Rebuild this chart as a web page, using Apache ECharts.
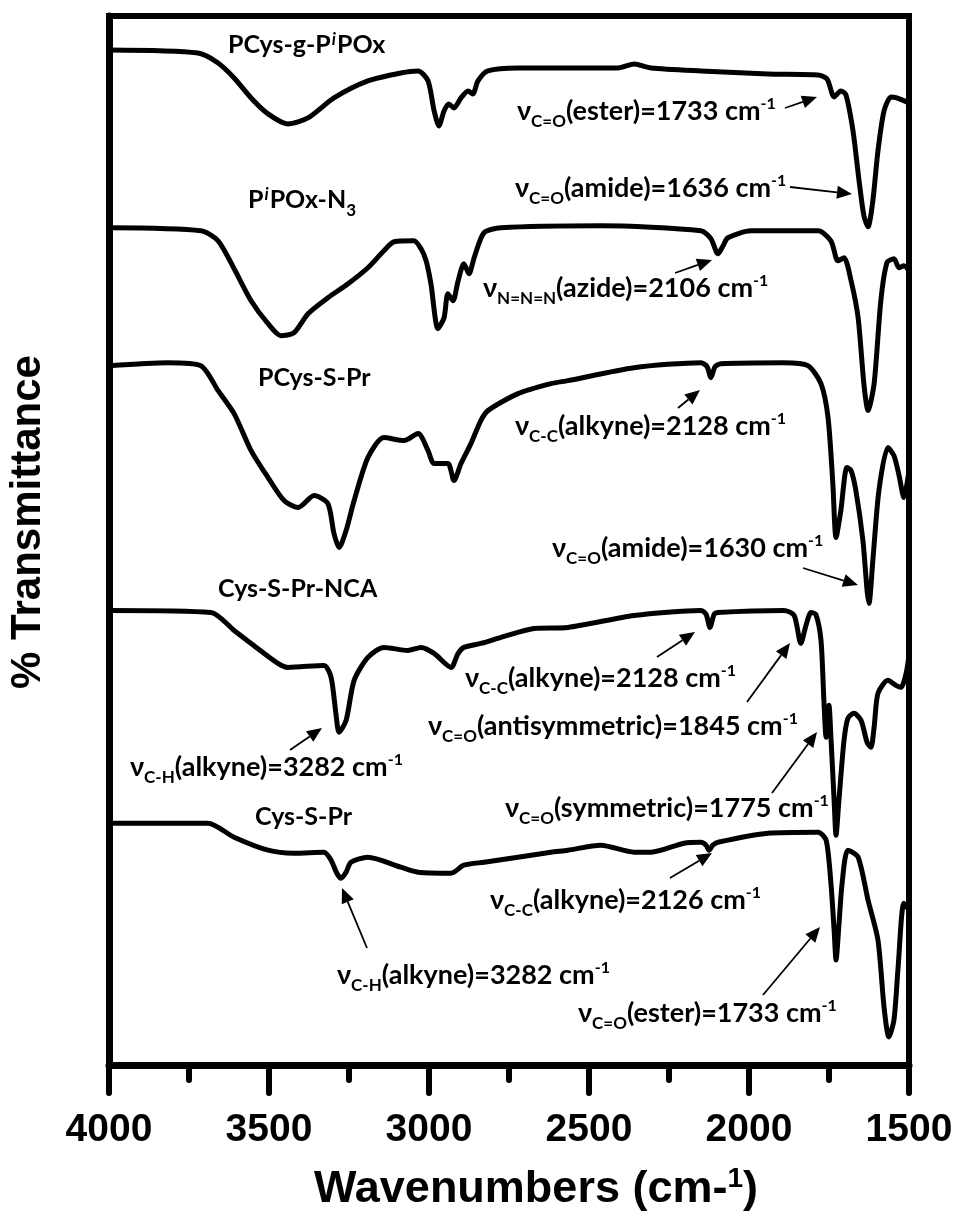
<!DOCTYPE html>
<html>
<head>
<meta charset="utf-8">
<script src="https://cdn.jsdelivr.net/npm/echarts@6/dist/echarts.min.js"></script>
<style>
  html, body { margin: 0; padding: 0; background: #fff; }
  #chart { width: 958px; height: 1215px; }
</style>
</head>
<body>
<div id="chart"></div>
<script>
// FTIR spectra, [wavenumber (cm-1), offset transmittance (a.u.)]
const pcysGPiPOx = [
  [4000, 101.6], [3722, 101.3], [3659, 100.3], [3609, 98.8], [3556, 96.8], [3503, 95.2],
  [3441, 94.2], [3378, 94.8], [3297, 96.8], [3191, 98.5], [3088, 99.3], [3034, 99.5],
  [3003, 98.5], [2984, 95.5], [2969, 94.0], [2953, 95.5], [2938, 96.2], [2922, 95.8],
  [2900, 96.8], [2878, 97.5], [2863, 97.2], [2847, 98.5], [2816, 99.5], [2722, 99.8],
  [2566, 99.8], [2409, 99.8], [2359, 100.2], [2306, 99.8], [2150, 99.5], [1941, 99.2],
  [1784, 99.1], [1756, 98.7], [1734, 96.9], [1713, 97.5], [1697, 97.1], [1675, 93.5],
  [1656, 88.5], [1641, 85.0], [1628, 83.9], [1613, 86.5], [1597, 91.5], [1578, 95.5],
  [1556, 96.9], [1538, 96.8], [1500, 96.3]
];
const piPOxN3 = [
  [4000, 83.8], [3713, 83.5], [3659, 82.5], [3609, 79.7], [3556, 76.5], [3503, 74.2],
  [3463, 73.0], [3422, 73.3], [3378, 75.2], [3316, 76.8], [3253, 78.2], [3191, 79.8],
  [3141, 81.5], [3109, 82.4], [3047, 82.5], [3025, 81.7], [3009, 80.5], [2994, 78.2],
  [2972, 73.7], [2953, 74.8], [2941, 77.2], [2925, 76.5], [2909, 78.5], [2891, 80.2],
  [2875, 79.2], [2859, 80.8], [2828, 83.3], [2775, 83.8], [2463, 84.0], [2150, 83.5],
  [2119, 82.7], [2097, 81.2], [2081, 82.0], [2066, 82.8], [1994, 83.5], [1784, 83.5],
  [1744, 82.5], [1722, 80.5], [1703, 80.8], [1681, 78.5], [1659, 74.8], [1641, 68.2],
  [1628, 65.5], [1609, 68.2], [1588, 76.5], [1569, 80.3], [1547, 80.7], [1531, 79.8],
  [1516, 80.0], [1500, 79.5]
];
const pcysSPr = [
  [4000, 70.0], [3816, 70.3], [3713, 70.0], [3659, 67.5], [3609, 65.2], [3556, 61.5],
  [3503, 58.8], [3453, 56.5], [3409, 55.8], [3359, 57.0], [3316, 56.2], [3297, 53.2],
  [3281, 51.8], [3259, 53.5], [3234, 56.5], [3191, 60.8], [3141, 62.8], [3078, 62.5],
  [3034, 63.2], [3003, 61.5], [2984, 60.2], [2941, 60.2], [2922, 58.5], [2900, 60.2],
  [2869, 62.2], [2838, 64.5], [2816, 65.5], [2722, 67.2], [2619, 68.2], [2566, 68.5],
  [2359, 69.8], [2150, 70.3], [2131, 69.9], [2119, 68.8], [2106, 69.9], [2088, 70.2],
  [1891, 70.3], [1816, 70.0], [1775, 68.2], [1753, 64.8], [1738, 58.2], [1728, 52.8],
  [1713, 55.5], [1694, 59.8], [1681, 59.5], [1666, 57.5], [1644, 52.5], [1631, 47.5],
  [1625, 46.2], [1613, 50.5], [1594, 57.5], [1566, 61.8], [1547, 61.0], [1531, 59.0],
  [1516, 56.8], [1500, 59.5]
];
const cysSPrNCA = [
  [4000, 45.5], [3681, 45.3], [3609, 43.5], [3556, 42.2], [3472, 40.2], [3441, 39.8],
  [3328, 40.0], [3306, 38.8], [3291, 35.2], [3281, 33.3], [3259, 34.5], [3234, 38.5],
  [3191, 40.8], [3141, 41.8], [3066, 41.5], [3025, 41.8], [2984, 41.2], [2931, 39.8],
  [2909, 41.2], [2891, 41.8], [2838, 42.2], [2775, 42.8], [2672, 43.7], [2566, 43.8],
  [2359, 45.0], [2150, 45.5], [2134, 45.1], [2122, 43.8], [2109, 45.1], [2097, 45.3],
  [1891, 45.5], [1859, 45.0], [1838, 42.2], [1822, 44.0], [1806, 45.3], [1791, 45.1],
  [1775, 42.5], [1766, 36.5], [1759, 32.8], [1750, 36.0], [1744, 32.8], [1734, 26.5],
  [1728, 23.0], [1719, 26.5], [1703, 32.5], [1691, 34.7], [1672, 35.2], [1650, 34.5],
  [1631, 32.3], [1619, 31.8], [1609, 33.8], [1597, 37.2], [1566, 38.5], [1541, 38.0],
  [1525, 37.8], [1509, 39.2], [1500, 41.0]
];
const cysSPr = [
  [4000, 24.2], [3691, 24.2], [3609, 22.8], [3503, 21.5], [3422, 21.2], [3328, 21.3],
  [3306, 20.5], [3288, 19.2], [3275, 18.7], [3259, 19.3], [3244, 20.3], [3191, 20.8],
  [3088, 19.8], [3034, 19.3], [2931, 19.2], [2891, 20.0], [2828, 20.3], [2722, 20.8],
  [2619, 21.3], [2566, 21.5], [2463, 22.0], [2359, 21.3], [2306, 21.3], [2203, 22.2],
  [2150, 22.3], [2134, 22.0], [2125, 21.5], [2113, 22.0], [2097, 22.3], [1941, 23.2],
  [1784, 23.3], [1759, 22.5], [1744, 18.2], [1734, 13.5], [1728, 10.5], [1719, 14.0],
  [1709, 18.2], [1691, 21.5], [1659, 20.8], [1628, 16.5], [1597, 12.5], [1578, 5.8],
  [1563, 2.8], [1547, 4.5], [1534, 9.8], [1516, 16.2], [1500, 15.5]
];
const spectra = [pcysGPiPOx, piPOxN3, pcysSPr, cysSPrNCA, cysSPr];
const xTicks = [4000, 3500, 3000, 2500, 2000, 1500];

// sample names and peak notes (rich text), with where they sit in the figure
const sampleLabels = [
  { text: '{n|PCys-g-P}{pi|i}{n|POx}', x: 228, y: 45 },
  { text: '{n|P}{pi|i}{n|POx-N}{s|3}', x: 248, y: 200 },
  { text: '{n|PCys-S-Pr}', x: 258, y: 378 },
  { text: '{n|Cys-S-Pr-NCA}', x: 218, y: 589 },
  { text: '{n|Cys-S-Pr}', x: 255, y: 817 }
];
const peakNotes = [
  { text: '{m|ν}{s|C=O}{m|(ester)=1733 cm}{p|-1}', x: 517, y: 111, from: [785, 108], to: [817, 97] },
  { text: '{m|ν}{s|C=O}{m|(amide)=1636 cm}{p|-1}', x: 515, y: 188, from: [790, 187], to: [852, 194] },
  { text: '{m|ν}{s|N=N=N}{m|(azide)=2106 cm}{p|-1}', x: 483, y: 288, from: [675, 273], to: [712, 260] },
  { text: '{m|ν}{s|C-C}{m|(alkyne)=2128 cm}{p|-1}', x: 515, y: 426, from: [678, 408], to: [700, 390] },
  { text: '{m|ν}{s|C=O}{m|(amide)=1630 cm}{p|-1}', x: 552, y: 548, from: [803, 568], to: [858, 585] },
  { text: '{m|ν}{s|C-C}{m|(alkyne)=2128 cm}{p|-1}', x: 465, y: 678, from: [657, 657], to: [695, 632] },
  { text: '{m|ν}{s|C=O}{m|(antisymmetric)=1845 cm}{p|-1}', x: 428, y: 726, from: [747, 702], to: [790, 643] },
  { text: '{m|ν}{s|C-H}{m|(alkyne)=3282 cm}{p|-1}', x: 130, y: 767, from: [290, 750], to: [322, 728] },
  { text: '{m|ν}{s|C=O}{m|(symmetric)=1775 cm}{p|-1}', x: 505, y: 808, from: [772, 793], to: [817, 732] },
  { text: '{m|ν}{s|C-C}{m|(alkyne)=2126 cm}{p|-1}', x: 490, y: 900, from: [670, 878], to: [712, 853] },
  { text: '{m|ν}{s|C-H}{m|(alkyne)=3282 cm}{p|-1}', x: 337, y: 975, from: [367, 948], to: [342, 888] },
  { text: '{m|ν}{s|C=O}{m|(ester)=1733 cm}{p|-1}', x: 578, y: 1013, from: [763, 995], to: [820, 927] }
];

const FONT = 'Lato, "Open Sans", "DejaVu Sans", sans-serif';
const AXISFONT = '"Liberation Sans", Arial, sans-serif';

const rich = {
  n: { fontSize: 25, fontWeight: 'bold', fontFamily: FONT, color: '#000', lineHeight: 38 },
  m: { fontSize: 27, fontWeight: 'bold', fontFamily: FONT, color: '#000', lineHeight: 38 },
  s: { fontSize: 17, fontWeight: 'bold', fontFamily: FONT, color: '#000', lineHeight: 16, padding: [21, 0, 0, 0], verticalAlign: 'top' },
  p: { fontSize: 16, fontWeight: 'bold', fontFamily: FONT, color: '#000', lineHeight: 16, padding: [4, 0, 0, 0], verticalAlign: 'top' },
  pi: { fontSize: 17, fontWeight: 'bold', fontStyle: 'italic', fontFamily: FONT, color: '#000', lineHeight: 16, padding: [5, 1, 0, 1], verticalAlign: 'top' }
};

function arrow (p1, p2) {
  const a = Math.atan2(p2[1] - p1[1], p2[0] - p1[0])
  const len = 15
  const half = 6.5
  const bx = p2[0] - len * Math.cos(a)
  const by = p2[1] - len * Math.sin(a)
  const nx = -Math.sin(a) * half
  const ny = Math.cos(a) * half
  return [
    { type: 'line', shape: { x1: p1[0], y1: p1[1], x2: bx, y2: by }, style: { stroke: '#000', lineWidth: 1.8 } },
    { type: 'polygon', shape: { points: [p2, [bx + nx, by + ny], [bx - nx, by - ny]] }, style: { fill: '#000' } }
  ]
}

const graphics = []
sampleLabels.concat(peakNotes).forEach(function (n) {
  graphics.push({
    type: 'text', x: n.x, y: n.y, z: 10,
    style: { text: n.text, rich: rich, align: 'left', verticalAlign: 'middle' }
  })
  if (n.from) graphics.push.apply(graphics, arrow(n.from, n.to))
})
// axis titles
graphics.push({
  type: 'text', x: 28, y: 522, rotation: Math.PI / 2,
  style: {
    text: '% Transmittance', fill: '#000', font: 'bold 42px ' + AXISFONT,
    align: 'center', verticalAlign: 'middle'
  }
})
graphics.push({
  type: 'text', x: 536, y: 1190,
  style: {
    text: '{t|Wavenumbers (cm-}{u|1}{t|)}', align: 'center', verticalAlign: 'middle',
    rich: {
      t: { fontSize: 45, fontWeight: 'bold', fontFamily: AXISFONT, color: '#000', lineHeight: 50 },
      u: { fontSize: 28, fontWeight: 'bold', fontFamily: AXISFONT, color: '#000', lineHeight: 28, verticalAlign: 'top' }
    }
  }
})

const chart = echarts.init(document.getElementById('chart'))
chart.setOption({
  animation: false,
  backgroundColor: '#fff',
  grid: {
    left: 109, right: 49, top: 16, bottom: 150,
    show: true, borderColor: '#000', borderWidth: 6
  },
  xAxis: {
    type: 'value',
    min: xTicks[xTicks.length - 1],
    max: xTicks[0],
    interval: 500,
    inverse: true,
    axisLine: { lineStyle: { color: '#000', width: 7 } },
    axisTick: { show: true, length: 28, lineStyle: { color: '#000', width: 6, cap: 'round' } },
    minorTick: { show: true, splitNumber: 2, length: 15, lineStyle: { color: '#000', width: 6, cap: 'round' } },
    splitLine: { show: false },
    minorSplitLine: { show: false },
    axisLabel: {
      color: '#000', fontSize: 39, fontWeight: 'bold', fontFamily: AXISFONT, margin: 46,
      showMinLabel: true, showMaxLabel: true,
      formatter: function (v) { return String(v) }
    }
  },
  yAxis: {
    type: 'value',
    min: 0,
    max: 105,
    axisLine: { show: true, lineStyle: { color: '#000', width: 7 } },
    axisTick: { show: false },
    axisLabel: { show: false },
    splitLine: { show: false }
  },
  series: spectra.map(function (d) {
    return {
      type: 'line',
      data: d,
      symbol: 'none',
      smooth: 0.25,
      lineStyle: { color: '#000', width: 5, join: 'round', cap: 'round' }
    }
  }),
  graphic: graphics
})
</script>
</body>
</html>
